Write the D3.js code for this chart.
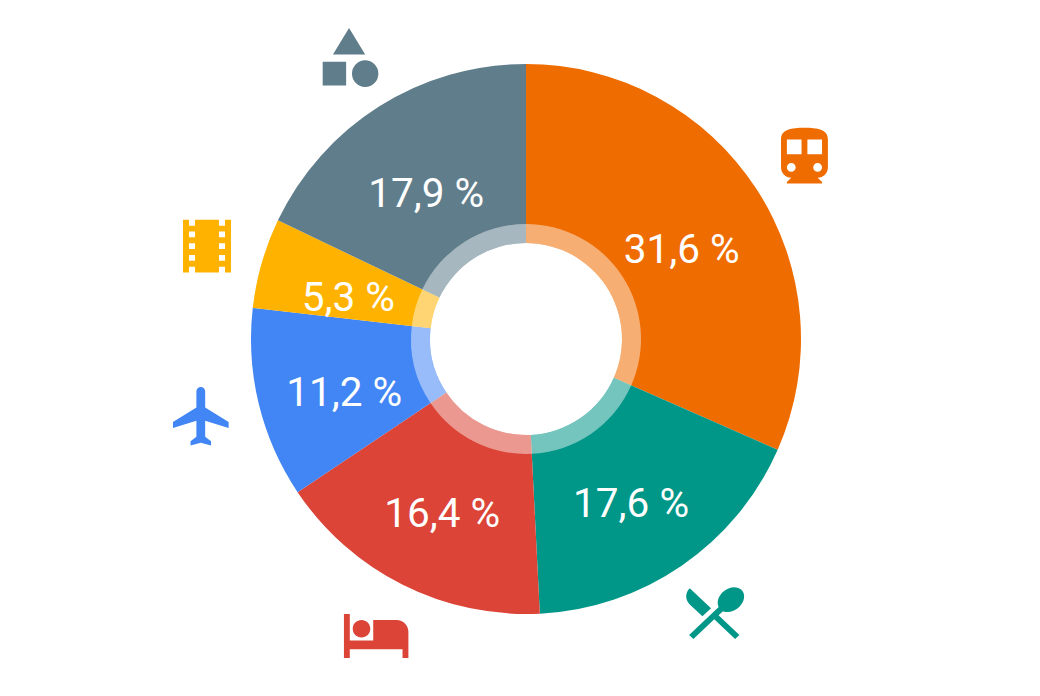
<!DOCTYPE html>
<html>
<head>
<meta charset="utf-8">
<script src="https://cdn.jsdelivr.net/npm/d3@7/dist/d3.min.js"></script>
<style>
html,body{margin:0;padding:0;background:#fff;overflow:hidden}
svg{display:block}
text{font-family:Roboto,sans-serif;fill:#fff}
</style>
</head>
<body>
<svg id="chart" width="1040" height="696"></svg>
<script>
const categories = ["Transport", "Food", "Lodging", "Flights", "Entertainment", "Other"];
const values = [31.6, 17.6, 16.4, 11.2, 5.3, 17.9];
const labels = ["31,6 %", "17,6 %", "16,4 %", "11,2 %", "5,3 %", "17,9 %"];
const colors = ["#EF6C00", "#009688", "#DB4437", "#4285F4", "#FFB300", "#607D8B"];

const iconPaths = [
  "M12 2c-4.42 0-8 .5-8 4v9.5C4 17.43 5.57 19 7.5 19L6 20.5v.5h12v-.5L16.5 19c1.93 0 3.5-1.57 3.5-3.5V6c0-3.5-3.58-4-8-4zM7.5 17c-.83 0-1.5-.67-1.5-1.5S6.67 14 7.5 14s1.5.67 1.5 1.5S8.33 17 7.5 17zm3.5-6H6V6h5v5zm5.5 6c-.83 0-1.5-.67-1.5-1.5s.67-1.5 1.5-1.5 1.5.67 1.5 1.5-.67 1.5-1.5 1.5zm1.5-6h-5V6h5v5z",
  "M8.1 13.34l2.83-2.83L3.91 3.5c-1.56 1.56-1.56 4.09 0 5.66l4.19 4.18zm6.78-1.81c1.53.71 3.68.21 5.27-1.38 1.91-1.91 2.28-4.65.81-6.12-1.46-1.46-4.2-1.1-6.12.81-1.59 1.59-2.09 3.74-1.38 5.27L3.7 19.87l1.41 1.41L12 14.41l6.88 6.88 1.41-1.41L13.41 13l1.47-1.47z",
  "M7 13c1.66 0 3-1.34 3-3S8.66 7 7 7s-3 1.34-3 3 1.34 3 3 3zm12-6h-8v7H3V5H1v15h2v-3h18v3h2v-9c0-2.21-1.79-4-4-4z",
  "M21 16v-2l-8-5V3.5c0-.83-.67-1.5-1.5-1.5S10 2.67 10 3.5V9l-8 5v2l8-2.5V19l-2 1.5V22l3.5-1 3.5 1v-1.5L13 19v-5.5l8 2.5z",
  "M18 3v2h-2V3H8v2H6V3H4v18h2v-2h2v2h8v-2h2v2h2V3h-2zM8 17H6v-2h2v2zm0-4H6v-2h2v2zm0-4H6V7h2v2zm10 8h-2v-2h2v2zm0-4h-2v-2h2v2zm0-4h-2V7h2v2z",
  "M12 2l-5.5 9h11zM17.5 13a4.5 4.5 0 1 0 0 9a4.5 4.5 0 1 0 0-9zM3 13.5h8v8H3z"
];

// Layout only
const cx = 526, cy = 339, rOuter = 275, rRing = 115, rHole = 96, rLabel = 187;
const labelNudge = [[-1,12],[-1,10],[0,7],[0,9],[2,10],[0,12]];
const iconTransforms = [
  [769.3,122,2.93,2.93],[677.9,578.3,3.03,2.85],[341,599.4,2.93,2.93],
  [167.1,381.1,2.93,2.93],[171,211,3,2.93],[313.9,22,2.93,2.95]
];

const svg = d3.select("#chart");
const g = svg.append("g").attr("transform", `translate(${cx},${cy})`);
const pie = d3.pie().sort(null).value(d => d)(values);
const arc = d3.arc().innerRadius(rHole).outerRadius(rOuter);
const ringArc = d3.arc().innerRadius(rHole).outerRadius(rRing);
const labelArc = d3.arc().innerRadius(rLabel).outerRadius(rLabel);
const color = d3.scaleOrdinal().domain(categories).range(colors);

g.selectAll("path.slice").data(pie).join("path")
  .attr("class","slice").attr("d",arc)
  .attr("fill",(d,i)=>color(categories[i]));

g.selectAll("path.ring").data(pie).join("path")
  .attr("class","ring").attr("d",ringArc)
  .attr("fill","#fff").attr("fill-opacity",0.45);

g.selectAll("text").data(pie).join("text")
  .attr("transform",(d,i)=>{
    const c = labelArc.centroid(d);
    return `translate(${c[0]+labelNudge[i][0]},${c[1]+labelNudge[i][1]})`;
  })
  .attr("text-anchor","middle")
  .attr("dominant-baseline","central")
  .attr("font-size",40.5)
  .text((d,i)=>labels[i]);

svg.selectAll("path.icon").data(iconPaths).join("path")
  .attr("class","icon").attr("d",d=>d)
  .attr("fill-rule","evenodd")
  .attr("transform",(d,i)=>{
    const t = iconTransforms[i];
    return `translate(${t[0]},${t[1]}) scale(${t[2]},${t[3]})`;
  })
  .attr("fill",(d,i)=>colors[i]);
</script>
</body>
</html>
